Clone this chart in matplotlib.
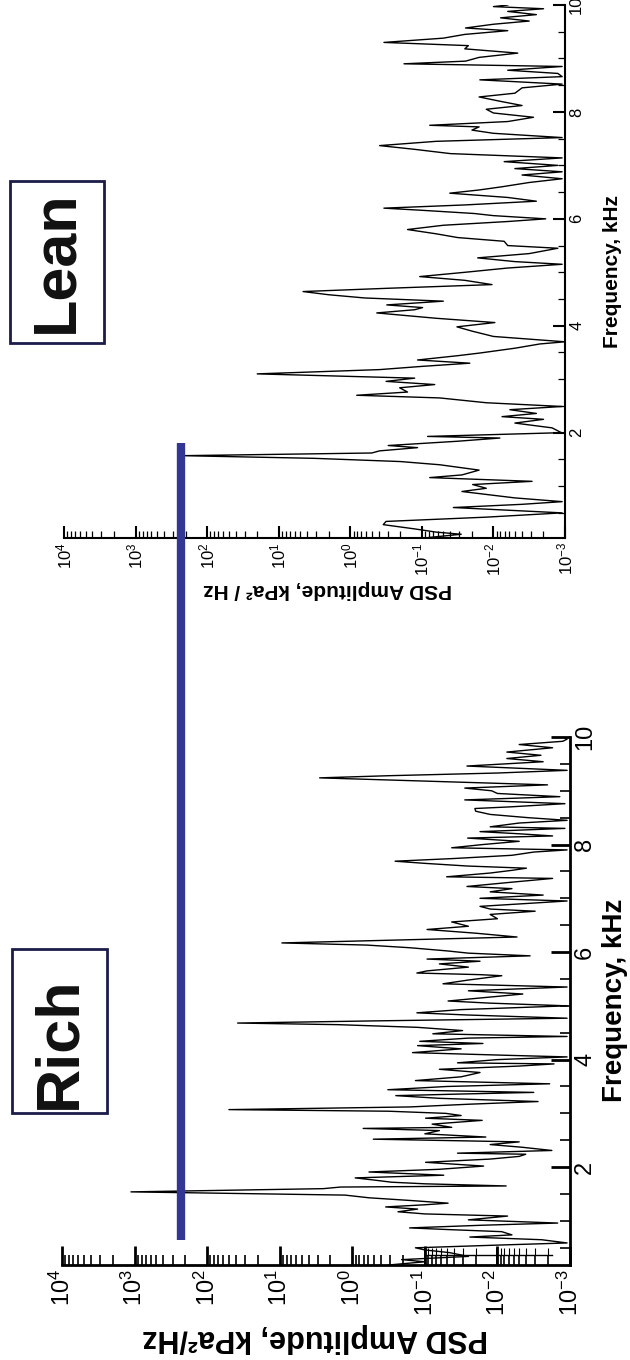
import matplotlib
matplotlib.use('Agg')
import matplotlib.pyplot as plt
from matplotlib.patches import Rectangle
from matplotlib.transforms import blended_transform_factory
from matplotlib.ticker import FixedLocator, LogLocator, MultipleLocator, NullFormatter

plt.rcParams['font.family'] = ['Liberation Sans', 'DejaVu Sans']
plt.rcParams['mathtext.fontset'] = 'custom'
plt.rcParams['mathtext.rm'] = 'Liberation Sans'
plt.rcParams['mathtext.it'] = 'Liberation Sans:italic'
plt.rcParams['mathtext.bf'] = 'Liberation Sans:bold'

# ---- data: frequency (kHz) and log10 of PSD (kPa^2/Hz) ----
lean_freq = [0.04, 0.10, 0.14, 0.20, 0.28, 0.34, 0.42, 0.50, 0.55, 0.60, 0.66, 0.71, 0.78, 0.90,
             0.96, 1.03, 1.09, 1.16, 1.21, 1.30, 1.40, 1.46, 1.52, 1.57, 1.62, 1.66, 1.72, 1.76,
             1.84, 1.90, 1.93, 2.00, 2.09, 2.18, 2.25, 2.30, 2.36, 2.43, 2.49, 2.56, 2.65, 2.70,
             2.76, 2.84, 2.90, 2.96, 3.02, 3.10, 3.18, 3.24, 3.30, 3.36, 3.44, 3.49, 3.58, 3.66,
             3.70, 3.80, 3.90, 3.98, 4.06, 4.14, 4.24, 4.30, 4.34, 4.39, 4.46, 4.52, 4.58, 4.64,
             4.70, 4.77, 4.85, 4.92, 5.00, 5.08, 5.15, 5.20, 5.27, 5.35, 5.45, 5.50, 5.58, 5.65,
             5.72, 5.80, 5.88, 5.95, 6.00, 6.06, 6.10, 6.16, 6.20, 6.26, 6.33, 6.40, 6.48, 6.54,
             6.60, 6.68, 6.75, 6.82, 6.88, 6.94, 7.00, 7.07, 7.14, 7.22, 7.30, 7.37, 7.45, 7.52,
             7.60, 7.66, 7.72, 7.75, 7.82, 7.90, 7.98, 8.05, 8.12, 8.20, 8.28, 8.35, 8.45, 8.52,
             8.60, 8.66, 8.72, 8.78, 8.85, 8.90, 8.95, 9.02, 9.10, 9.18, 9.24, 9.30, 9.38, 9.45,
             9.52, 9.57, 9.64, 9.70, 9.76, 9.82, 9.88, 9.93, 9.97, 10.0]
lean_log10_psd = [-1.1, -1.55, -1.2, -0.9, -0.46, -0.5, -1.9, -2.96, -2.2, -1.44, -2.4, -2.96, -2.3, -1.56,
                  -1.9, -1.71, -2.54, -1.11, -1.56, -1.8, -1.25, -0.7, 0.5, 2.34, -0.3, -0.41, -0.94, -0.53,
                  -1.5, -2.09, -1.08, -2.95, -2.82, -2.3, -2.7, -2.12, -2.6, -2.23, -2.96, -1.9, -1.25, -0.09,
                  -0.8, -0.69, -1.18, -0.5, -0.9, 1.30, -0.41, -1.0, -1.67, -0.94, -1.5, -1.81, -2.3, -2.65,
                  -3.0, -2.0, -1.7, -1.49, -2.02, -1.2, -0.37, -0.9, -1.01, -0.51, -1.3, -0.2, 0.3, 0.66,
                  -0.5, -1.98, -1.6, -0.97, -1.6, -2.2, -2.96, -2.3, -1.78, -2.5, -2.9, -2.2, -2.15, -1.5,
                  -1.2, -0.80, -1.3, -2.2, -2.73, -2.0, -1.73, -1.0, -0.47, -1.6, -2.6, -2.2, -1.39, -1.8,
                  -2.12, -2.5, -2.96, -2.4, -2.96, -2.3, -2.9, -2.15, -2.96, -1.4, -0.9, -0.41, -1.2, -2.96,
                  -2.0, -1.70, -1.8, -1.11, -2.2, -2.56, -2.0, -1.9, -2.4, -2.09, -1.8, -2.3, -2.4, -2.96,
                  -1.81, -2.96, -2.9, -2.2, -2.96, -0.75, -1.61, -1.8, -2.34, -1.6, -1.65, -0.47, -1.3, -1.6,
                  -2.2, -1.61, -2.0, -2.5, -2.1, -2.6, -2.2, -2.7, -2.0, -2.2]

rich_freq = [0.18, 0.24, 0.28, 0.34, 0.41, 0.46, 0.50, 0.55, 0.59, 0.65, 0.70, 0.74, 0.80, 0.84,
             0.87, 0.92, 0.96, 1.02, 1.09, 1.13, 1.17, 1.22, 1.26, 1.30, 1.33, 1.38, 1.43, 1.48,
             1.54, 1.60, 1.63, 1.65, 1.69, 1.72, 1.76, 1.80, 1.85, 1.91, 1.96, 2.02, 2.09, 2.15,
             2.20, 2.24, 2.26, 2.31, 2.37, 2.42, 2.47, 2.52, 2.56, 2.62, 2.68, 2.72, 2.74, 2.80,
             2.87, 2.91, 2.96, 3.00, 3.04, 3.07, 3.12, 3.17, 3.22, 3.28, 3.33, 3.36, 3.39, 3.44,
             3.50, 3.55, 3.61, 3.68, 3.76, 3.82, 3.88, 3.92, 3.94, 4.00, 4.05, 4.08, 4.13, 4.20,
             4.26, 4.30, 4.34, 4.40, 4.43, 4.48, 4.54, 4.60, 4.65, 4.68, 4.72, 4.77, 4.83, 4.87,
             4.93, 5.00, 5.05, 5.09, 5.15, 5.22, 5.28, 5.35, 5.41, 5.48, 5.56, 5.58, 5.61, 5.65,
             5.72, 5.78, 5.83, 5.87, 5.93, 5.98, 6.02, 6.08, 6.13, 6.17, 6.22, 6.28, 6.35, 6.42,
             6.48, 6.56, 6.62, 6.70, 6.76, 6.80, 6.85, 6.95, 7.00, 7.06, 7.12, 7.18, 7.22, 7.30,
             7.37, 7.40, 7.47, 7.52, 7.56, 7.60, 7.65, 7.69, 7.74, 7.80, 7.86, 7.90, 7.94, 8.00,
             8.06, 8.12, 8.16, 8.20, 8.24, 8.30, 8.33, 8.40, 8.45, 8.50, 8.56, 8.62, 8.67, 8.70,
             8.76, 8.83, 8.89, 8.95, 9.00, 9.05, 9.11, 9.16, 9.20, 9.24, 9.28, 9.33, 9.38, 9.46,
             9.54, 9.60, 9.66, 9.72, 9.80, 9.86, 9.92, 9.96, 10.0]
rich_log10_psd = [-0.5, -1.0, -0.68, -1.6, -1.34, -1.0, -0.87, -2.0, -2.96, -2.61, -1.62, -2.2, -2.06, -1.3,
                  -0.79, -1.8, -2.83, -1.6, -2.14, -1.0, -0.63, -0.9, -0.46, -1.0, -1.32, -0.8, -0.23, 0.1,
                  3.05, 0.4, 0.16, -2.12, -1.0, -0.54, -0.3, -0.04, -1.26, -0.23, -1.2, -1.81, -1.01, -1.9,
                  -2.3, -2.39, -1.45, -2.75, -2.34, -1.9, -2.3, -0.29, -1.84, -1.0, -1.2, -0.15, -1.37, -1.1,
                  -1.79, -1.01, -1.5, -1.29, -0.5, 1.70, -0.8, -1.6, -2.56, -1.2, -0.6, -1.5, -2.5, -0.49,
                  -1.3, -2.72, -0.87, -1.5, -1.76, -1.2, -2.3, -2.78, -1.45, -2.0, -2.96, -2.13, -0.83, -1.5,
                  -0.90, -1.80, -0.93, -1.6, -2.96, -1.11, -1.52, -0.9, 0.2, 1.58, -0.3, -2.96, -1.58, -0.89,
                  -1.5, -2.96, -1.9, -1.32, -1.8, -2.35, -1.6, -2.96, -1.25, -1.6, -2.06, -1.76, -0.89, -1.03,
                  -1.6, -1.2, -1.76, -1.03, -2.45, -1.6, -1.32, -0.8, -0.2, 0.97, -0.5, -2.27, -1.71, -1.03,
                  -1.6, -1.37, -2.0, -1.9, -2.52, -1.9, -1.76, -2.96, -1.76, -2.63, -1.9, -2.2, -1.58, -2.2,
                  -2.76, -1.30, -1.9, -2.2, -2.40, -1.59, -1.0, -0.59, -1.4, -2.2, -2.5, -2.96, -1.37, -1.8,
                  -2.3, -1.59, -2.76, -2.3, -1.76, -2.93, -1.90, -2.3, -2.96, -2.42, -1.9, -1.70, -1.69, -2.17,
                  -2.93, -1.55, -2.86, -2.0, -1.92, -1.55, -2.69, -1.5, -0.5, 0.45, -0.5, -2.0, -2.96, -1.58,
                  -2.63, -2.13, -2.6, -2.13, -2.76, -2.3, -2.9, -2.96, -2.9]

psd_exponents = [4, 3, 2, 1, 0, -1, -2, -3]
freq_ticks = [2, 4, 6, 8, 10]
peak_level = 230  # kPa^2/Hz, level marked by the blue bar

# stray copy of an axis fragment near the bottom of the Rich panel
echo_freq = 0.37
echo_span = [1e-1, 10 ** -2.75]
echo_major = [1e-1, 1e-2]
echo_minor = [9e-2, 8e-2, 7e-2, 6e-2, 5e-2, 4e-2, 3e-2, 2e-2, 9e-3, 8e-3, 7e-3, 6e-3, 5e-3, 4e-3, 3e-3, 2e-3]

W, H = 630, 1360
fig = plt.figure(figsize=(W / 100, H / 100), dpi=100)


def px_axes(x0, y0, x1, y1):
    # pixel box measured from the top-left corner
    return fig.add_axes([x0 / W, 1 - y1 / H, (x1 - x0) / W, (y1 - y0) / H])


def style_axes(ax, f_min, tick_fs, lw, major_len, minor_len):
    ax.set_xscale('log')
    ax.set_xlim(1e4, 1e-3)
    ax.set_ylim(f_min, 10)
    ax.spines['top'].set_visible(False)
    ax.spines['left'].set_visible(False)
    ax.spines['bottom'].set_linewidth(lw)
    ax.spines['right'].set_linewidth(lw)
    ax.yaxis.tick_right()
    ax.xaxis.set_major_locator(FixedLocator([10.0 ** e for e in psd_exponents]))
    ax.set_xticklabels([f'$10^{{{e}}}$' for e in psd_exponents], rotation=90, fontsize=tick_fs)
    ax.xaxis.set_minor_locator(LogLocator(base=10, subs=range(2, 10), numticks=20))
    ax.xaxis.set_minor_formatter(NullFormatter())
    ax.set_yticks(freq_ticks)
    ax.set_yticklabels([str(t) for t in freq_ticks], rotation=90, va='center', fontsize=tick_fs)
    ax.yaxis.set_minor_locator(MultipleLocator(0.5))
    ax.tick_params(which='major', direction='in', length=major_len, width=lw, pad=3)
    ax.tick_params(which='minor', direction='in', length=minor_len, width=lw * 0.6)
    ax.tick_params(axis='x', which='both', top=False)
    ax.tick_params(axis='y', which='both', left=False, right=True)


# Lean panel (top)
ax_lean = px_axes(64, 5, 565, 538)
ax_lean.plot([10.0 ** v for v in lean_log10_psd], lean_freq, color='black', lw=1.0)
style_axes(ax_lean, 0.03, 12, 1.5, 9, 5)

# Rich panel (bottom)
ax_rich = px_axes(62, 737, 570, 1265)
ax_rich.plot([10.0 ** v for v in rich_log10_psd], rich_freq, color='black', lw=1.0)
style_axes(ax_rich, 0.18, 17, 2.0, 14, 7)

ax_rich.plot(echo_span, [echo_freq, echo_freq], color='black', lw=1.0)
ax_rich.vlines(echo_major, 0.18, 0.50, color='black', lw=1.4)
ax_rich.vlines(echo_minor, echo_freq, echo_freq + 0.12, color='black', lw=0.8)

# blue bar marking the peak level, spanning both panels
trans = blended_transform_factory(ax_rich.transData, fig.transFigure)
ax_rich.plot([peak_level, peak_level], [1 - 1240 / H, 1 - 443 / H], transform=trans,
             color='#333793', lw=6, solid_capstyle='butt', clip_on=False, zorder=5)

# axis titles (the whole chart is turned a quarter turn)
fig.text(615 / W, 1 - 1000 / H, 'Frequency, kHz', rotation=90, ha='center', va='center',
         fontsize=20, fontweight='bold')
fig.text(612 / W, 1 - 271 / H, 'Frequency, kHz', rotation=90, ha='center', va='center',
         fontsize=15, fontweight='bold')
fig.text(315 / W, 1 - 1338 / H, 'PSD Amplitude, kPa²/Hz', rotation=180, ha='center', va='center',
         fontsize=22, fontweight='bold')
fig.text(452 / W, 1 - 590 / H, 'PSD Amplitude, kPa² / Hz', rotation=180, ha='right',
         va='center', fontsize=15, fontweight='bold')

# boxed case labels
for (x0, y0, x1, y1, ty, name) in [(12, 949, 107, 1113, 1043, 'Rich'),
                                   (10, 181, 104, 343, 262, 'Lean')]:
    fig.add_artist(Rectangle((x0 / W, 1 - y1 / H), (x1 - x0) / W, (y1 - y0) / H,
                             transform=fig.transFigure, fill=False, ec='#1c1c4a', lw=2))
    fig.text((x0 + x1) / 2 / W, 1 - ty / H, name, rotation=90, ha='center',
             va='center', fontsize=44, fontweight='bold', color='#111111')

fig.savefig('out.png', dpi=100)
